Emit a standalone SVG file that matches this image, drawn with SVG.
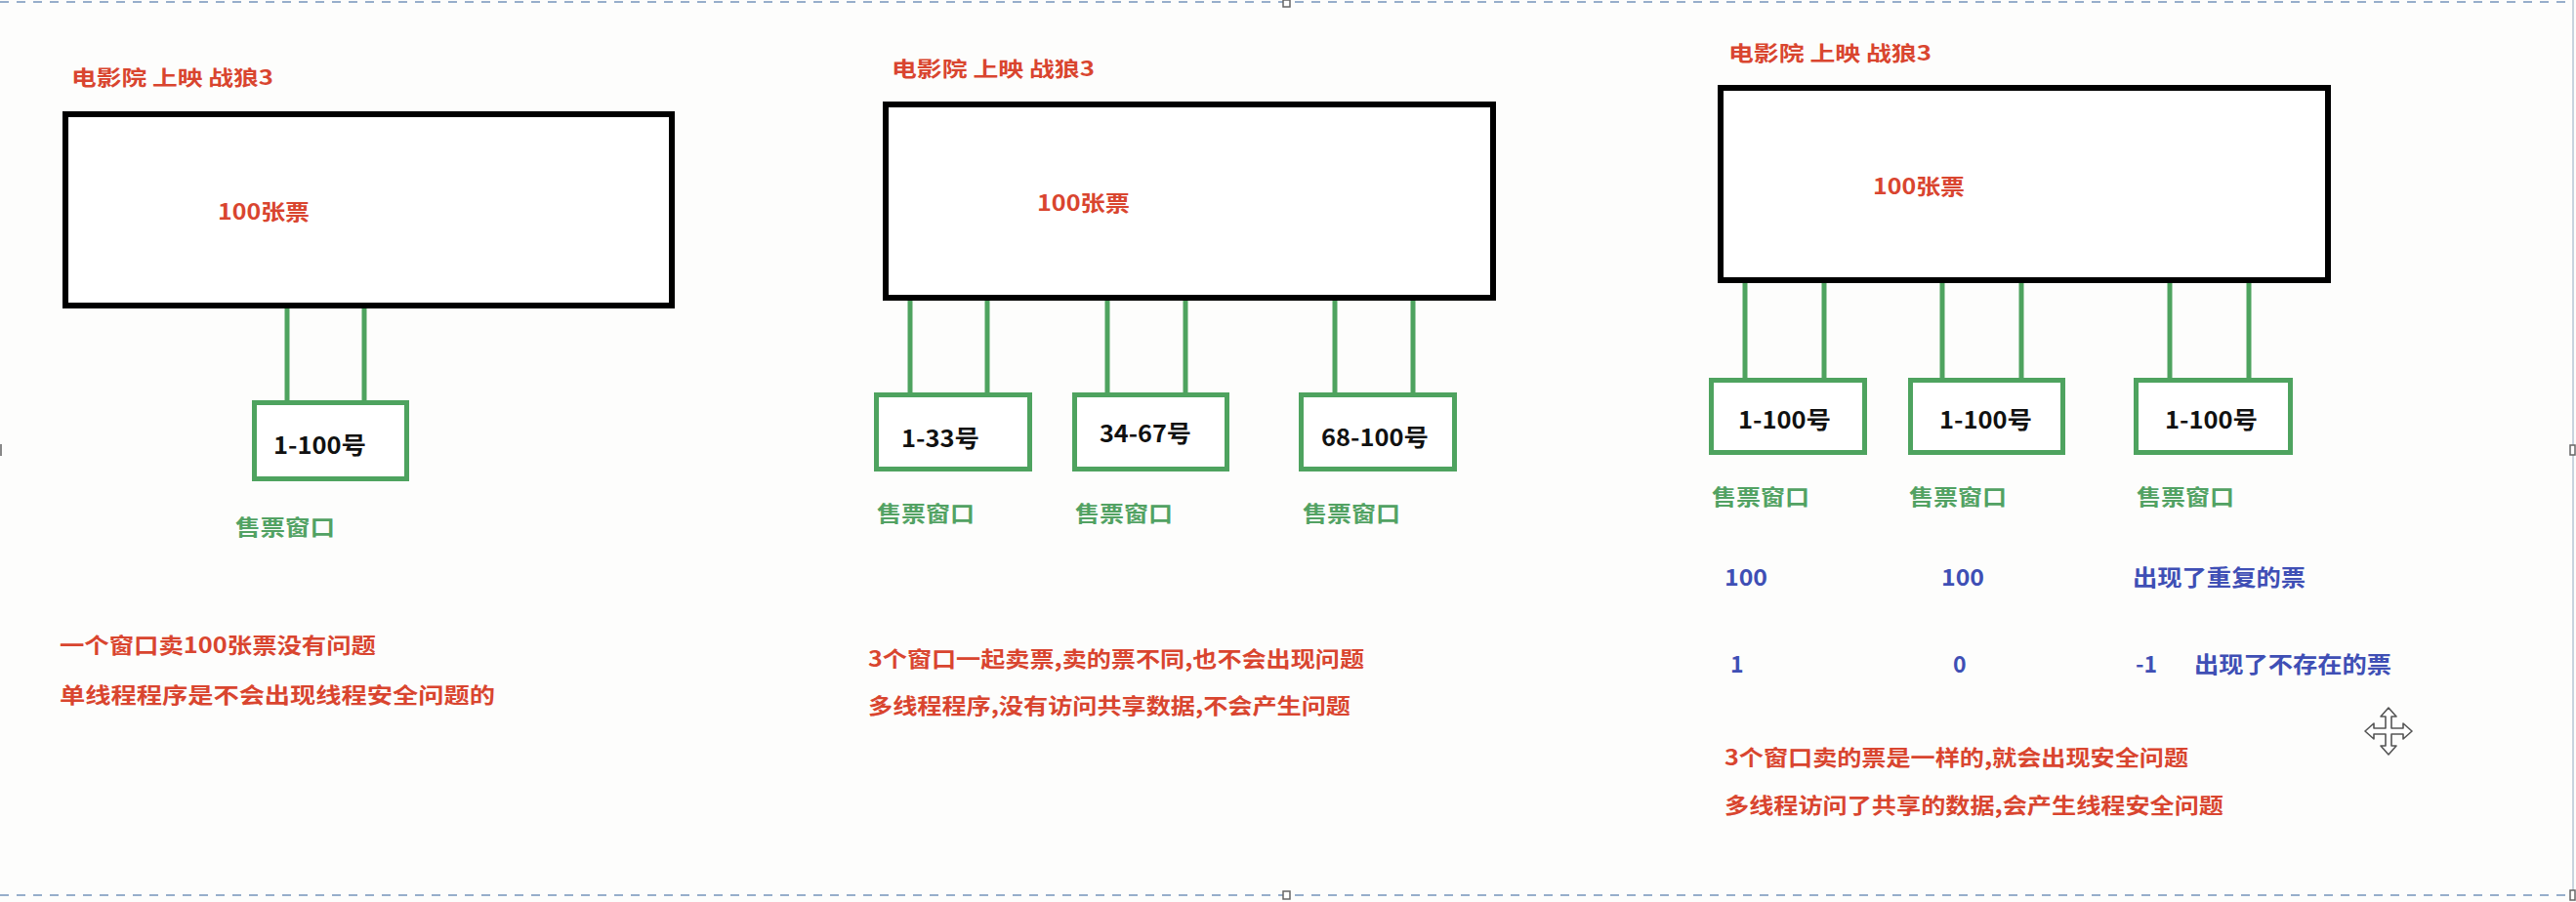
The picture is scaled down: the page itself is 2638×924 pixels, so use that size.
<svg xmlns="http://www.w3.org/2000/svg" width="2638" height="924" viewBox="0 0 2638 924">
<defs>
<style>
text{font-family:"Noto Sans CJK SC","Noto Sans",sans-serif;font-weight:bold}
.title{font-size:21px;fill:#d9452f}
.red{font-size:22px;fill:#d9452f}
.lbl{font-size:24px;fill:#111}
.gtxt{font-size:22px;fill:#52a263}
.blue{font-size:23px;fill:#3f4fb5}
.big{fill:#fff;stroke:#000;stroke-width:6}
.win{fill:#fff;stroke:#4ea35f;stroke-width:5}
.conn line{stroke:#4ea35f;stroke-width:5}
.frame{stroke:#97aecb;stroke-width:2;stroke-dasharray:9 8;fill:none}
.handle{fill:#fff;stroke:#666;stroke-width:1.5}
</style>
</defs>
<rect width="2638" height="924" fill="#fdfdfc"/>
<g id="frame">
<line class="frame" x1="0" y1="2" x2="2634" y2="2"/>
<line class="frame" x1="0" y1="917" x2="2634" y2="917"/>
<line x1="2635" y1="0" x2="2635" y2="917" stroke="#c9d3de" stroke-width="2"/>
<rect class="handle" x="1314" y="0" width="7" height="7"/>
<rect class="handle" x="1314" y="913" width="7" height="8"/>
<rect class="handle" x="2632" y="456" width="5" height="10"/>
<rect class="handle" x="2632" y="912" width="5" height="10"/>
<rect x="0" y="455" width="2" height="12" fill="#888"/>
</g>

<g class="conn" id="connectors">
<line x1="294" y1="316" x2="294" y2="412"/>
<line x1="373" y1="316" x2="373" y2="412"/>
<line x1="932" y1="308" x2="932" y2="404"/>
<line x1="1011" y1="308" x2="1011" y2="404"/>
<line x1="1134" y1="308" x2="1134" y2="404"/>
<line x1="1214" y1="308" x2="1214" y2="404"/>
<line x1="1367" y1="308" x2="1367" y2="404"/>
<line x1="1447" y1="308" x2="1447" y2="404"/>
<line x1="1787" y1="290" x2="1787" y2="389"/>
<line x1="1868" y1="290" x2="1868" y2="389"/>
<line x1="1989" y1="290" x2="1989" y2="389"/>
<line x1="2070" y1="290" x2="2070" y2="389"/>
<line x1="2222" y1="290" x2="2222" y2="389"/>
<line x1="2303" y1="290" x2="2303" y2="389"/>
</g>

<!-- Panel 1 -->
<g id="p1-title"><text class="title" x="73" y="87" textLength="207" lengthAdjust="spacingAndGlyphs">电影院 上映 战狼3</text></g>
<g id="p1-cinema">
<rect class="big" x="67" y="117" width="621" height="196"/>
<text class="red" x="223" y="225" textLength="94" lengthAdjust="spacingAndGlyphs">100张票</text>
</g>
<g id="p1-window">
<rect class="win" x="260.5" y="412.5" width="156" height="78"/>
<text class="lbl" x="280" y="465" textLength="95" lengthAdjust="spacingAndGlyphs">1-100号</text>
<text class="gtxt" x="241" y="548" textLength="102" lengthAdjust="spacingAndGlyphs">售票窗口</text>
</g>
<g id="p1-notes">
<text class="red" x="61" y="669" textLength="324" lengthAdjust="spacingAndGlyphs">一个窗口卖100张票没有问题</text>
<text class="red" x="61" y="720" textLength="446" lengthAdjust="spacingAndGlyphs">单线程程序是不会出现线程安全问题的</text>
</g>

<!-- Panel 2 -->
<g id="p2-title"><text class="title" x="913" y="78" textLength="208" lengthAdjust="spacingAndGlyphs">电影院 上映 战狼3</text></g>
<g id="p2-cinema">
<rect class="big" x="907" y="107" width="622" height="198"/>
<text class="red" x="1062" y="216" textLength="95" lengthAdjust="spacingAndGlyphs">100张票</text>
</g>
<g id="p2-window1">
<rect class="win" x="897.5" y="404.5" width="157" height="76"/>
<text class="lbl" x="923" y="458" textLength="80" lengthAdjust="spacingAndGlyphs">1-33号</text>
<text class="gtxt" x="898" y="534" textLength="100" lengthAdjust="spacingAndGlyphs">售票窗口</text>
</g>
<g id="p2-window2">
<rect class="win" x="1100.5" y="404.5" width="156" height="76"/>
<text class="lbl" x="1126" y="453" textLength="94" lengthAdjust="spacingAndGlyphs">34-67号</text>
<text class="gtxt" x="1101" y="534" textLength="100" lengthAdjust="spacingAndGlyphs">售票窗口</text>
</g>
<g id="p2-window3">
<rect class="win" x="1332.5" y="404.5" width="157" height="76"/>
<text class="lbl" x="1353" y="457" textLength="110" lengthAdjust="spacingAndGlyphs">68-100号</text>
<text class="gtxt" x="1334" y="534" textLength="100" lengthAdjust="spacingAndGlyphs">售票窗口</text>
</g>
<g id="p2-notes">
<text class="red" x="889" y="683" textLength="508" lengthAdjust="spacingAndGlyphs">3个窗口一起卖票,卖的票不同,也不会出现问题</text>
<text class="red" x="889" y="731" textLength="494" lengthAdjust="spacingAndGlyphs">多线程程序,没有访问共享数据,不会产生问题</text>
</g>

<!-- Panel 3 -->
<g id="p3-title"><text class="title" x="1770" y="62" textLength="208" lengthAdjust="spacingAndGlyphs">电影院 上映 战狼3</text></g>
<g id="p3-cinema">
<rect class="big" x="1762" y="90" width="622" height="197"/>
<text class="red" x="1918" y="199" textLength="94" lengthAdjust="spacingAndGlyphs">100张票</text>
</g>
<g id="p3-window1">
<rect class="win" x="1752.5" y="389.5" width="157" height="74"/>
<text class="lbl" x="1780" y="439" textLength="95" lengthAdjust="spacingAndGlyphs">1-100号</text>
<text class="gtxt" x="1753" y="517" textLength="100" lengthAdjust="spacingAndGlyphs">售票窗口</text>
</g>
<g id="p3-window2">
<rect class="win" x="1956.5" y="389.5" width="156" height="74"/>
<text class="lbl" x="1986" y="439" textLength="95" lengthAdjust="spacingAndGlyphs">1-100号</text>
<text class="gtxt" x="1955" y="517" textLength="100" lengthAdjust="spacingAndGlyphs">售票窗口</text>
</g>
<g id="p3-window3">
<rect class="win" x="2187.5" y="389.5" width="158" height="74"/>
<text class="lbl" x="2217" y="439" textLength="95" lengthAdjust="spacingAndGlyphs">1-100号</text>
<text class="gtxt" x="2188" y="517" textLength="100" lengthAdjust="spacingAndGlyphs">售票窗口</text>
</g>
<g id="p3-values">
<text class="blue" x="1766" y="600" textLength="44" lengthAdjust="spacingAndGlyphs">100</text>
<text class="blue" x="1988" y="600" textLength="44" lengthAdjust="spacingAndGlyphs">100</text>
<text class="blue" x="2184" y="600" textLength="177" lengthAdjust="spacingAndGlyphs">出现了重复的票</text>
<text class="blue" x="1772" y="689">1</text>
<text class="blue" x="2000" y="689">0</text>
<text class="blue" x="2187" y="689">-1</text>
<text class="blue" x="2247" y="689" textLength="202" lengthAdjust="spacingAndGlyphs">出现了不存在的票</text>
</g>
<g id="p3-notes">
<text class="red" x="1766" y="784" textLength="475" lengthAdjust="spacingAndGlyphs">3个窗口卖的票是一样的,就会出现安全问题</text>
<text class="red" x="1766" y="833" textLength="511" lengthAdjust="spacingAndGlyphs">多线程访问了共享的数据,会产生线程安全问题</text>
</g>
<g id="cursor" transform="translate(2446,749)">
<path d="M0,-24 L8,-15 L3,-15 L3,-3 L15,-3 L15,-8 L24,0 L15,8 L15,3 L3,3 L3,15 L8,15 L0,24 L-8,15 L-3,15 L-3,3 L-15,3 L-15,8 L-24,0 L-15,-8 L-15,-3 L-3,-3 L-3,-15 L-8,-15 Z" fill="#fff" stroke="#555" stroke-width="1.6" stroke-linejoin="round"/>
</g>
</svg>
